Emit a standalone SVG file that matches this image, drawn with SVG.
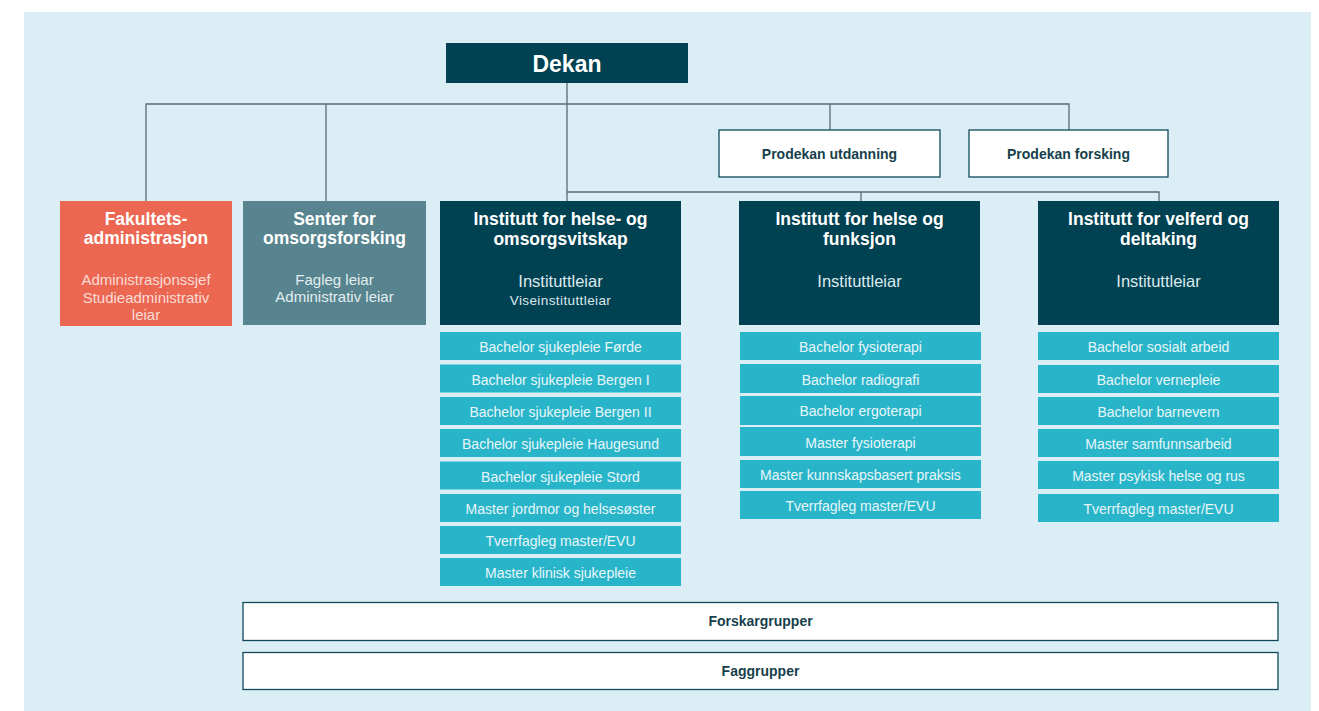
<svg xmlns="http://www.w3.org/2000/svg" width="1319" height="711" viewBox="0 0 1319 711">
<style>
text{font-family:"Liberation Sans",Arial,sans-serif;text-anchor:middle}
.dark{fill:#004152}
.item{fill:#29B5C9}
.itxt{fill:#E8F6F9;font-size:14px}
.title{fill:#FFFFFF;font-size:17.5px;font-weight:bold}
.sub{font-size:15px}
.wbox{fill:#FFFFFF;stroke:#0E4A5A;stroke-width:1.3}
.wtxt{fill:#163F4C;font-size:14px;font-weight:bold}
.conn{stroke:#5A6A71;stroke-width:1.3;fill:none}
</style>
<rect x="0" y="0" width="1319" height="711" fill="#FFFFFF"/>
<rect x="24" y="12" width="1287" height="699" fill="#DCEEF5"/>

<g id="connectors">
<path class="conn" d="M567 83V192M146 201V104H1069V130M326 104V201M830 104V130M567 192H1159V256M567 192V201M861 192V201"/>
</g>

<g id="dekan">
<rect class="dark" x="446" y="43" width="242" height="40"/>
<text x="567" y="72" fill="#FFFFFF" font-size="23" font-weight="bold">Dekan</text>
</g>

<g id="prodekan-utdanning">
<rect class="wbox" x="719" y="130" width="221" height="47"/>
<text class="wtxt" x="829.5" y="158.5">Prodekan utdanning</text>
</g>
<g id="prodekan-forsking">
<rect class="wbox" x="969" y="130" width="199" height="47"/>
<text class="wtxt" x="1068.5" y="158.5">Prodekan forsking</text>
</g>

<g id="fakultetsadministrasjon">
<rect x="60" y="201" width="172" height="125" fill="#EC6752"/>
<text class="title" x="146" y="224.5">Fakultets-</text>
<text class="title" x="146" y="244">administrasjon</text>
<text class="sub" x="146" y="285" fill="#F9DCD5">Administrasjonssjef</text>
<text class="sub" x="146" y="302.5" fill="#F9DCD5">Studieadministrativ</text>
<text class="sub" x="146" y="320" fill="#F9DCD5">leiar</text>
</g>

<g id="senter">
<rect x="243" y="201" width="183" height="124" fill="#57848F"/>
<text class="title" x="334.5" y="224.5">Senter for</text>
<text class="title" x="334.5" y="244">omsorgsforsking</text>
<text class="sub" x="334.5" y="284.5" fill="#E2EEF1">Fagleg leiar</text>
<text class="sub" x="334.5" y="302" fill="#E2EEF1">Administrativ leiar</text>
</g>

<g id="inst-helse-omsorg">
<rect class="dark" x="440" y="201" width="241" height="124"/>
<text class="title" x="560.5" y="225">Institutt for helse- og</text>
<text class="title" x="560.5" y="244.5">omsorgsvitskap</text>
<text x="560.5" y="287" fill="#DCE9ED" font-size="16.5">Instituttleiar</text>
<text x="560.5" y="304.5" fill="#DCE9ED" font-size="13.5" letter-spacing="0.4">Viseinstituttleiar</text>
</g>

<g id="inst-helse-funksjon">
<rect class="dark" x="739" y="201" width="241" height="124"/>
<text class="title" x="859.5" y="225">Institutt for helse og</text>
<text class="title" x="859.5" y="244.5">funksjon</text>
<text x="859.5" y="287" fill="#DCE9ED" font-size="16.5">Instituttleiar</text>
</g>

<g id="inst-velferd">
<rect class="dark" x="1038" y="201" width="241" height="124"/>
<text class="title" x="1158.5" y="225">Institutt for velferd og</text>
<text class="title" x="1158.5" y="244.5">deltaking</text>
<text x="1158.5" y="287" fill="#DCE9ED" font-size="16.5">Instituttleiar</text>
</g>

<g id="prog-helse-omsorg">
<rect class="item" x="440" y="332" width="241" height="28"/><text class="itxt" x="560.5" y="352">Bachelor sjukepleie Førde</text>
<rect class="item" x="440" y="364.5" width="241" height="28"/><text class="itxt" x="560.5" y="384.5">Bachelor sjukepleie Bergen I</text>
<rect class="item" x="440" y="397" width="241" height="28"/><text class="itxt" x="560.5" y="417">Bachelor sjukepleie Bergen II</text>
<rect class="item" x="440" y="429" width="241" height="28"/><text class="itxt" x="560.5" y="449">Bachelor sjukepleie Haugesund</text>
<rect class="item" x="440" y="461.5" width="241" height="28"/><text class="itxt" x="560.5" y="481.5">Bachelor sjukepleie Stord</text>
<rect class="item" x="440" y="494" width="241" height="28"/><text class="itxt" x="560.5" y="514">Master jordmor og helsesøster</text>
<rect class="item" x="440" y="526" width="241" height="28"/><text class="itxt" x="560.5" y="546">Tverrfagleg master/EVU</text>
<rect class="item" x="440" y="558" width="241" height="28"/><text class="itxt" x="560.5" y="578">Master klinisk sjukepleie</text>
</g>

<g id="prog-helse-funksjon">
<rect class="item" x="740" y="332" width="241" height="28"/><text class="itxt" x="860.5" y="352">Bachelor fysioterapi</text>
<rect class="item" x="740" y="364" width="241" height="29"/><text class="itxt" x="860.5" y="384.5">Bachelor radiografi</text>
<rect class="item" x="740" y="396" width="241" height="29"/><text class="itxt" x="860.5" y="416">Bachelor ergoterapi</text>
<rect class="item" x="740" y="427" width="241" height="29"/><text class="itxt" x="860.5" y="447.5">Master fysioterapi</text>
<rect class="item" x="740" y="460" width="241" height="28"/><text class="itxt" x="860.5" y="480">Master kunnskapsbasert praksis</text>
<rect class="item" x="740" y="491" width="241" height="28"/><text class="itxt" x="860.5" y="511">Tverrfagleg master/EVU</text>
</g>

<g id="prog-velferd">
<rect class="item" x="1038" y="332" width="241" height="28"/><text class="itxt" x="1158.5" y="352">Bachelor sosialt arbeid</text>
<rect class="item" x="1038" y="365" width="241" height="28"/><text class="itxt" x="1158.5" y="385">Bachelor vernepleie</text>
<rect class="item" x="1038" y="397" width="241" height="28"/><text class="itxt" x="1158.5" y="417">Bachelor barnevern</text>
<rect class="item" x="1038" y="429" width="241" height="28"/><text class="itxt" x="1158.5" y="449">Master samfunnsarbeid</text>
<rect class="item" x="1038" y="461" width="241" height="28"/><text class="itxt" x="1158.5" y="481">Master psykisk helse og rus</text>
<rect class="item" x="1038" y="494" width="241" height="28"/><text class="itxt" x="1158.5" y="514">Tverrfagleg master/EVU</text>
</g>

<g id="forskargrupper">
<rect class="wbox" x="243" y="602.5" width="1035" height="38"/>
<text class="wtxt" x="760.5" y="626">Forskargrupper</text>
</g>
<g id="faggrupper">
<rect class="wbox" x="243" y="652.5" width="1035" height="37"/>
<text class="wtxt" x="760.5" y="676">Faggrupper</text>
</g>
</svg>
